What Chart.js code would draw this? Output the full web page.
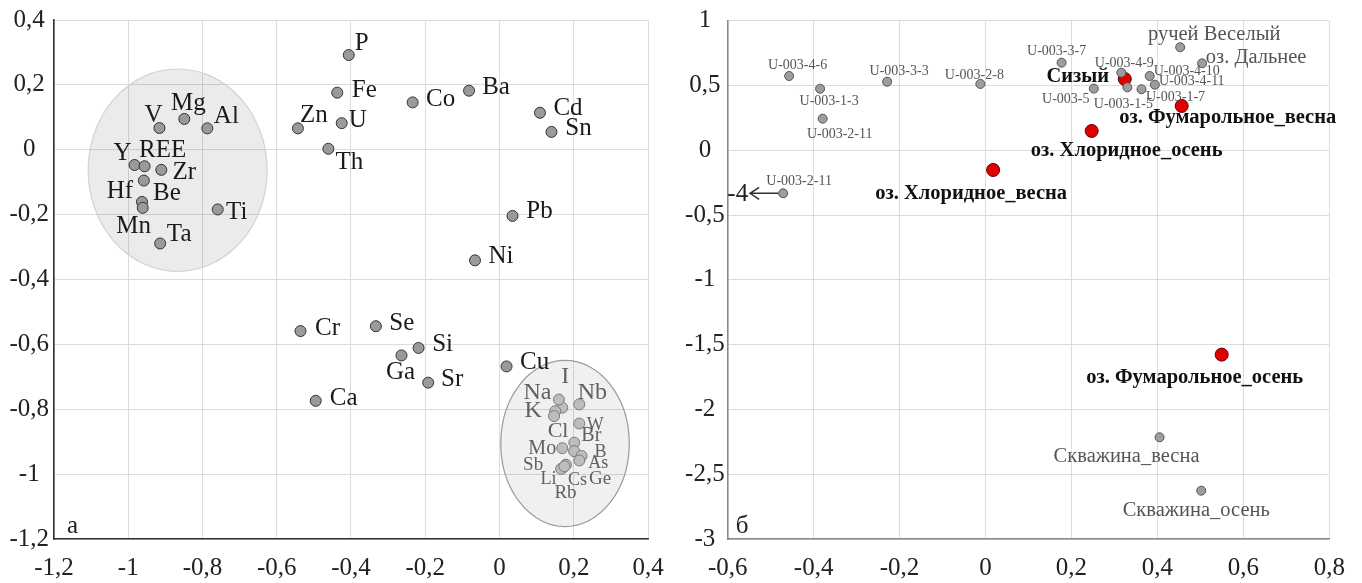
<!DOCTYPE html>
<html>
<head>
<meta charset="utf-8">
<script src="https://cdn.jsdelivr.net/npm/chart.js@4.4.1/dist/chart.umd.min.js"></script>
<style>
  html, body { margin: 0; padding: 0; background: #fff; }
  #wrap { position: relative; width: 1362px; height: 583px; overflow: hidden; }
  #panelA { position: absolute; left: 0; top: 0; }
  #panelB { position: absolute; left: 680px; top: 0; }
</style>
</head>
<body>
<div id="wrap">
  <canvas id="panelA" width="680" height="583"></canvas>
  <canvas id="panelB" width="682" height="583"></canvas>
</div>
<script>
// ---------- Panel а: factor loadings of elements ----------
const elemNames = ['P','Fe','Zn','U','Th','Co','Ba','Cd','Sn','Pb','Ni',
  'V','Mg','Al','Y','REE','Zr','Hf','Be','Mn','Ti','Ta',
  'Cr','Se','Si','Ga','Sr','Ca','Cu'];
const elemX = [-0.406,-0.437,-0.543,-0.425,-0.461,-0.234,-0.082,0.109,0.140,0.035,-0.066,
  -0.916,-0.849,-0.787,-0.983,-0.956,-0.911,-0.958,-0.963,-0.961,-0.759,-0.914,
  -0.536,-0.333,-0.218,-0.264,-0.192,-0.495,0.019];
const elemY = [0.292,0.176,0.066,0.082,0.003,0.146,0.182,0.114,0.055,-0.204,-0.341,
  0.067,0.095,0.066,-0.047,-0.051,-0.062,-0.095,-0.161,-0.179,-0.184,-0.289,
  -0.559,-0.544,-0.611,-0.634,-0.718,-0.774,-0.668];

// Highly correlated group in the lower right
const groupNames = ['I','Na','K','Cl','Nb','W','Br','Mo','Ge','B','As','Cs','Li','Sb','Rb'];
const groupX = [0.169,0.160,0.150,0.147,0.215,0.215,0.2015,0.169,0.201,0.221,0.215,0.179,0.170,0.166,0.175];
const groupY = [-0.795,-0.770,-0.806,-0.821,-0.785,-0.844,-0.903,-0.920,-0.929,-0.944,-0.958,-0.971,-0.981,-0.984,-0.976];

// Shaded groupings: [centerX, centerY, radiusX, radiusY]
const groupAreas = [
  [-0.867, -0.063, 0.241, 0.312],
  [0.1765, -0.9056, 0.173, 0.256]
];

const axisA_x = [-1.2,-1,-0.8,-0.6,-0.4,-0.2,0,0.2,0.4];
const axisA_xLabels = ['-1,2','-1','-0,8','-0,6','-0,4','-0,2','0','0,2','0,4'];
const axisA_y = [-1.2,-1,-0.8,-0.6,-0.4,-0.2,0,0.2,0.4];
const axisA_yLabels = ['-1,2','-1','-0,8','-0,6','-0,4','-0,2','0','0,2','0,4'];

// ---------- Panel б: factor scores of water samples ----------
const sampleNames = ['U-003-4-6','U-003-1-3','U-003-2-11','U-003-3-3','U-003-2-8','U-003-2-11',
  'U-003-3-7','U-003-4-9','U-003-5','U-003-1-5','U-003-1-7','U-003-4-10','U-003-4-11',
  'ручей Веселый','оз. Дальнее','Скважина_весна','Скважина_осень'];
const sampleX = [-0.457,-0.385,-0.379,-0.229,-0.012,-0.471,
  0.177,0.316,0.252,0.330,0.363,0.382,0.394,
  0.453,0.504,0.405,0.502];
const sampleY = [0.573,0.475,0.244,0.529,0.512,-0.332,
  0.676,0.599,0.476,0.486,0.471,0.573,0.506,
  0.795,0.671,-2.215,-2.627];
// sample lying beyond the left edge of the scale (its PC1 score)
const offScaleIndex = 5;
const offScaleText = '-4';

const lakeNames = ['Сизый','оз. Фумарольное_весна','оз. Хлоридное_осень','оз. Хлоридное_весна','оз. Фумарольное_осень'];
const lakeX = [0.324,0.4565,0.247,0.0177,0.5496];
const lakeY = [0.55,0.342,0.149,-0.152,-1.577];

const axisB_x = [-0.6,-0.4,-0.2,0,0.2,0.4,0.6,0.8];
const axisB_xLabels = ['-0,6','-0,4','-0,2','0','0,2','0,4','0,6','0,8'];
const axisB_y = [-3,-2.5,-2,-1.5,-1,-0.5,0,0.5,1];
const axisB_yLabels = ['-3','-2,5','-2','-1,5','-1','-0,5','0','0,5','1'];

// ---------- label placement (pixel offset of label centre from its point, font size) ----------
const elemLabelPlace = [
  [13,-12],[27,-2],[16,-13],[16,-3],[21,14],[28,-3],[27,-3],[28,-4],[27,-3],[27,-4],[26,-4],
  [-6,-13],[4,-15],[19,-12],[-12,-12],[18,-16],[23,3],[-24,11],[25,-9],[-9,19],[19,3],[19,-9],
  [27,-3],[26,-3],[24,-4],[-1,17],[24,-3],[28,-2],[28,-4]
];
const groupLabelPlace = [
  [3,-31,24],[-21.5,-6.5,24],[-22,0,24],[4,15,22],[13,-12,24],[16,2,18],[17,-7,20],[-20,1,20],
  [26,28,19],[19,-4,18],[19,3,18],[11.5,16,18],[-14,11,18],[-28,-4,19],[1,27,19]
];
const sampleLabelPlace = [
  [8.5,-11],[9,13],[17,16],[12,-10],[-6,-9],[16,-12],
  [-5,-11],[3,-9],[-28,11],[-4,17],[34,8],[37,-5],[37,-3],
  [34,-13,20.5],[54,-6,20.5],[-33,19,20.5],[-5,20,20.5]
];
const lakeLabelPlace = [[-47,-2],[46,12],[35,20],[-22,24],[-27,23]];

const SERIF = "'Liberation Serif', 'Times New Roman', serif";

// Draws point names next to each marker
const pointLabels = {
  id: 'pointLabels',
  afterDatasetsDraw(chart) {
    const ctx = chart.ctx;
    chart.data.datasets.forEach((ds, di) => {
      if (!ds.names) return;
      const meta = chart.getDatasetMeta(di);
      ctx.save();
      ctx.fillStyle = ds.labelColor;
      ctx.textAlign = 'center';
      ctx.textBaseline = 'middle';
      meta.data.forEach((pt, i) => {
        const p = ds.labelPlace[i];
        const size = p[2] || ds.labelSize;
        ctx.font = (ds.labelWeight || 'normal') + ' ' + size + 'px ' + SERIF;
        ctx.fillText(ds.names[i], pt.x + p[0], pt.y + p[1]);
      });
      ctx.restore();
    });
  }
};

// Shaded ellipses behind the markers
const shadedAreas = {
  id: 'shadedAreas',
  beforeDatasetsDraw(chart, args, opts) {
    if (!opts.items) return;
    const { ctx, scales: { x, y } } = chart;
    opts.items.forEach((a, i) => {
      const cx = x.getPixelForValue(a[0]);
      const cy = y.getPixelForValue(a[1]);
      const rx = Math.abs(x.getPixelForValue(a[0] + a[2]) - cx);
      const ry = Math.abs(y.getPixelForValue(a[1] + a[3]) - cy);
      ctx.save();
      ctx.beginPath();
      ctx.ellipse(cx, cy, rx, ry, 0, 0, Math.PI * 2);
      ctx.fillStyle = opts.fills[i];
      ctx.fill();
      ctx.lineWidth = 1.2;
      ctx.strokeStyle = opts.strokes[i];
      ctx.stroke();
      ctx.restore();
    });
  }
};

// Panel letter in the lower-left corner of the plot
const panelLetter = {
  id: 'panelLetter',
  afterDraw(chart, args, opts) {
    if (!opts.text) return;
    const { ctx, chartArea } = chart;
    ctx.save();
    ctx.font = '25px ' + SERIF;
    ctx.fillStyle = '#222';
    ctx.textAlign = 'left';
    ctx.textBaseline = 'alphabetic';
    ctx.fillText(opts.text, chartArea.left + opts.dx, chartArea.bottom - 6);
    ctx.restore();
  }
};

// Arrow and value for the sample outside the plotted range
const offScaleMarker = {
  id: 'offScaleMarker',
  afterDatasetsDraw(chart, args, opts) {
    if (opts.index === undefined) return;
    const meta = chart.getDatasetMeta(opts.dataset);
    const pt = meta.data[opts.index];
    const ctx = chart.ctx;
    const x0 = pt.x - 5, x1 = pt.x - 33, y = pt.y;
    ctx.save();
    ctx.strokeStyle = '#333';
    ctx.lineWidth = 1.6;
    ctx.beginPath();
    ctx.moveTo(x0, y); ctx.lineTo(x1, y);
    ctx.moveTo(x1 + 9, y - 6); ctx.lineTo(x1, y); ctx.lineTo(x1 + 9, y + 6);
    ctx.stroke();
    ctx.font = '25px ' + SERIF;
    ctx.fillStyle = '#222';
    ctx.textAlign = 'right';
    ctx.textBaseline = 'middle';
    ctx.fillText(opts.text, x1 - 2, y + 1);
    ctx.restore();
  }
};

const toPoints = (xs, ys) => xs.map((v, i) => ({ x: v, y: ys[i] }));

function axis(values, labels, min, max, axisColor, sizeKey, size, pad, vertical) {
  return {
    type: 'linear', min, max,
    afterBuildTicks: s => { s.ticks = values.map(v => ({ value: v })); },
    afterFit: s => { s[sizeKey] = size; },
    ticks: {
      callback: (v, i) => labels[i],
      font: { family: SERIF, size: 25 },
      color: '#222',
      padding: pad,
      crossAlign: vertical ? 'center' : 'near',
      autoSkip: false,
      maxRotation: 0
    },
    grid: { color: '#dcdcdc', lineWidth: 1, drawTicks: false },
    border: { color: axisColor, width: 1.6 }
  };
}

function baseOptions(xAxis, yAxis, pad, plugins) {
  return {
    responsive: false,
    animation: false,
    devicePixelRatio: 1,
    layout: { padding: pad },
    scales: { x: xAxis, y: yAxis },
    plugins: Object.assign({ legend: { display: false }, tooltip: { enabled: false } }, plugins)
  };
}

new Chart(document.getElementById('panelA'), {
  type: 'scatter',
  data: {
    datasets: [
      {
        data: toPoints(groupX, groupY),
        names: groupNames, labelPlace: groupLabelPlace,
        labelColor: '#606060', labelSize: 20,
        pointRadius: 5.5, backgroundColor: '#bdbdbd', borderColor: '#7a7a7a', borderWidth: 1
      },
      {
        data: toPoints(elemX, elemY),
        names: elemNames, labelPlace: elemLabelPlace,
        labelColor: '#1a1a1a', labelSize: 25,
        pointRadius: 5.5, backgroundColor: '#9a9a9a', borderColor: '#333', borderWidth: 1
      }
    ]
  },
  options: baseOptions(
    axis(axisA_x, axisA_xLabels, -1.2, 0.4, '#333', 'height', 44, 14, false),
    axis(axisA_y, axisA_yLabels, -1.2, 0.4, '#333', 'width', 54, 5, true),
    { top: 20, right: 32, left: 0, bottom: 0 },
    {
      shadedAreas: { items: groupAreas, fills: ['rgba(0,0,0,0.08)', 'rgba(0,0,0,0.06)'], strokes: ['#d2d2d2', '#9a9a9a'] },
      panelLetter: { text: 'а', dx: 13 }
    }
  ),
  plugins: [shadedAreas, pointLabels, panelLetter]
});

new Chart(document.getElementById('panelB'), {
  type: 'scatter',
  data: {
    datasets: [
      {
        data: toPoints(sampleX, sampleY),
        names: sampleNames, labelPlace: sampleLabelPlace,
        labelColor: '#555', labelSize: 14,
        pointRadius: 4.5, backgroundColor: '#9d9d9d', borderColor: '#555', borderWidth: 1
      },
      {
        data: toPoints(lakeX, lakeY),
        names: lakeNames, labelPlace: lakeLabelPlace,
        labelColor: '#111', labelSize: 20.5, labelWeight: 'bold',
        pointRadius: 6.5, backgroundColor: '#e00000', borderColor: '#5a0000', borderWidth: 1
      }
    ]
  },
  options: baseOptions(
    axis(axisB_x, axisB_xLabels, -0.6, 0.8, '#888', 'height', 44, 14, false),
    axis(axisB_y, axisB_yLabels, -3, 1, '#888', 'width', 47.7, 3, true),
    { top: 20.7, right: 32.7, left: 0, bottom: 0 },
    {
      offScaleMarker: { dataset: 0, index: offScaleIndex, text: offScaleText },
      panelLetter: { text: 'б', dx: 8 }
    }
  ),
  plugins: [pointLabels, offScaleMarker, panelLetter]
});
</script>
</body>
</html>
